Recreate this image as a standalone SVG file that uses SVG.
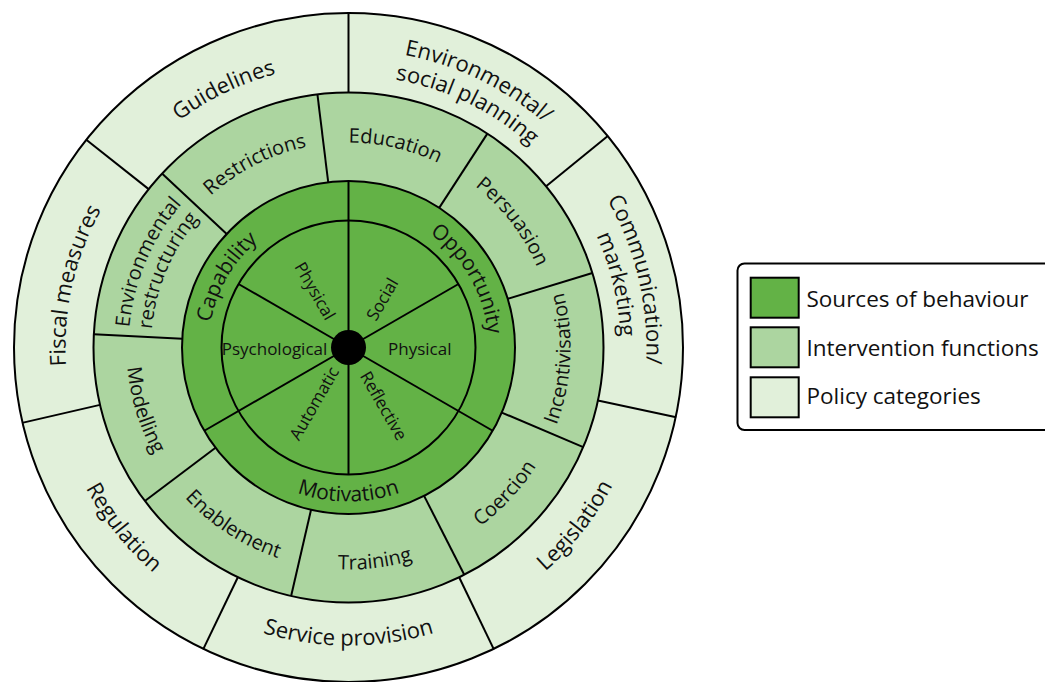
<svg xmlns="http://www.w3.org/2000/svg" width="1045" height="682" viewBox="0 0 1045 682">
<style>
.pol{fill:#e1f0da}
.int{fill:#acd5a0}
.src{fill:#63b246}
.ring{stroke:#000;stroke-width:2}
#dividers line{stroke:#000;stroke-width:2}
text{font-family:"Open Sans","Noto Sans","DejaVu Sans",sans-serif;fill:#111;text-anchor:middle}
.t22{font-size:22px}.t21{font-size:21px}.t20{font-size:20px}.t17{font-size:17px}
.lg{font-size:22.5px;text-anchor:start}
</style>
<defs>
<path id="up283" d="M103.41,206 A283,283 0 0 1 593.59,206"/>
<path id="up298" d="M90.43,198.5 A298,298 0 0 1 606.57,198.5"/>
<path id="up272" d="M112.95,211.5 A272,272 0 0 1 584.05,211.5"/>
<path id="lo298" d="M90.43,496.5 A298,298 0 0 0 606.57,496.5"/>
<path id="up205" d="M170.97,245 A205,205 0 0 1 526.03,245"/>
<path id="up220" d="M157.98,237.5 A220,220 0 0 1 539.02,237.5"/>
<path id="up197" d="M177.46,248.75 A197.5,197.5 0 0 1 519.54,248.75"/>
<path id="lo222" d="M156.24,458.5 A222,222 0 0 0 540.76,458.5"/>
<path id="up140" d="M227.26,277.5 A140,140 0 0 1 469.74,277.5"/>
<path id="lo154" d="M215.13,424.5 A154,154 0 0 0 481.87,424.5"/>
</defs>

<g id="wheel-rings">
<circle class="pol ring" cx="348.5" cy="347.5" r="334.5"/>
<circle class="int ring" cx="348.5" cy="347.5" r="255"/>
<circle class="src ring" cx="348.5" cy="347.5" r="166.5"/>
<circle class="src ring" cx="348.5" cy="347.5" r="127"/>
</g>

<g id="dividers">
<line x1="348.5" y1="92.5" x2="348.5" y2="13"/>
<line x1="148.66" y1="189.12" x2="85.96" y2="139.43"/>
<line x1="100.03" y1="404.87" x2="22.08" y2="422.87"/>
<line x1="237.86" y1="577.26" x2="203.14" y2="649.34"/>
<line x1="459.14" y1="577.26" x2="493.86" y2="649.34"/>
<line x1="597.9" y1="400.5" x2="676.2" y2="417.15"/>
<line x1="546.1" y1="186.34" x2="608.1" y2="135.78"/>

<line x1="507.72" y1="298.82" x2="592.36" y2="272.94"/>
<line x1="439.18" y1="207.86" x2="487.37" y2="133.63"/>
<line x1="328.2" y1="182.25" x2="317.42" y2="94.41"/>
<line x1="226.72" y1="233.95" x2="162" y2="173.59"/>
<line x1="182.23" y1="338.79" x2="93.85" y2="334.16"/>
<line x1="215.53" y1="447.7" x2="144.86" y2="500.96"/>
<line x1="311.04" y1="509.74" x2="291.13" y2="595.97"/>
<line x1="424.09" y1="495.85" x2="464.27" y2="574.71"/>
<line x1="501.76" y1="412.55" x2="583.23" y2="447.13"/>

<line x1="348.5" y1="347.5" x2="348.5" y2="181"/>
<line x1="348.5" y1="347.5" x2="204.31" y2="430.75"/>
<line x1="348.5" y1="347.5" x2="492.69" y2="430.75"/>
<line x1="348.5" y1="347.5" x2="458.49" y2="284"/>
<line x1="348.5" y1="347.5" x2="238.51" y2="284"/>
<line x1="348.5" y1="347.5" x2="348.5" y2="474.5"/>
</g>
<circle id="hub" cx="348.5" cy="347.5" r="17.5" fill="#000"/>

<g id="policy-categories" class="t22">
<g id="guidelines"><text transform="rotate(-25.8 348.5 347.5)"><textPath href="#up283" startOffset="50%">Guidelines</textPath></text></g>
<g id="fiscal-measures"><text transform="rotate(-77.3 348.5 347.5)"><textPath href="#up283" startOffset="50%">Fiscal measures</textPath></text></g>
<g id="environmental-social-planning">
<text transform="rotate(26 348.5 347.5)"><textPath href="#up298" startOffset="50%">Environmental/</textPath></text>
<text transform="rotate(26 348.5 347.5)"><textPath href="#up272" startOffset="50%">social planning</textPath></text>
</g>
<g id="communication-marketing">
<text transform="rotate(76.7 348.5 347.5)"><textPath href="#up298" startOffset="50%">Communication/</textPath></text>
<text transform="rotate(76.7 348.5 347.5)"><textPath href="#up272" startOffset="50%">marketing</textPath></text>
</g>
<g id="regulation"><text transform="rotate(51.35 348.5 347.5)"><textPath href="#lo298" startOffset="50%">Regulation</textPath></text></g>
<g id="service-provision"><text><textPath href="#lo298" startOffset="50%">Service provision</textPath></text></g>
<g id="legislation"><text transform="rotate(-51.85 348.5 347.5)"><textPath href="#lo298" startOffset="50%">Legislation</textPath></text></g>
</g>

<g id="intervention-functions" class="t20">
<g id="education"><text transform="rotate(13 348.5 347.5)"><textPath href="#up205" startOffset="50%">Education</textPath></text></g>
<g id="restrictions"><text transform="rotate(-27 348.5 347.5)"><textPath href="#up205" startOffset="50%">Restrictions</textPath></text></g>
<g id="environmental-restructuring">
<text transform="rotate(-67 348.5 347.5)"><textPath href="#up220" startOffset="50%">Environmental</textPath></text>
<text transform="rotate(-67 348.5 347.5)"><textPath href="#up197" startOffset="50%">restructuring</textPath></text>
</g>
<g id="persuasion"><text transform="rotate(52.5 348.5 347.5)"><textPath href="#up205" startOffset="50%">Persuasion</textPath></text></g>
<g id="modelling"><text transform="rotate(73 348.5 347.5)"><textPath href="#lo222" startOffset="50%">Modelling</textPath></text></g>
<g id="enablement"><text transform="rotate(33 348.5 347.5)"><textPath href="#lo222" startOffset="50%">Enablement</textPath></text></g>
<g id="training"><text transform="rotate(-7 348.5 347.5)"><textPath href="#lo222" startOffset="50%">Training</textPath></text></g>
<g id="coercion"><text transform="rotate(-47 348.5 347.5)"><textPath href="#lo222" startOffset="50%">Coercion</textPath></text></g>
<g id="incentivisation"><text transform="rotate(-87 348.5 347.5)"><textPath href="#lo222" startOffset="50%">Incentivisation</textPath></text></g>
</g>

<g id="sources-of-behaviour" class="t21">
<g id="capability"><text transform="rotate(-60 348.5 347.5)"><textPath href="#up140" startOffset="50%">Capability</textPath></text></g>
<g id="opportunity"><text transform="rotate(60 348.5 347.5)"><textPath href="#up140" startOffset="50%">Opportunity</textPath></text></g>
<g id="motivation"><text><textPath href="#lo154" startOffset="50%">Motivation</textPath></text></g>
</g>

<g id="components" class="t17">
<g id="physical-capability"><text transform="translate(315 291) rotate(60)" dy="0.35em">Physical</text></g>
<g id="psychological"><text x="274.5" y="355">Psychological</text></g>
<g id="social"><text transform="translate(382.3 299.3) rotate(-60)" dy="0.35em">Social</text></g>
<g id="physical-opportunity"><text x="419.8" y="355">Physical</text></g>
<g id="automatic"><text transform="translate(314.2 403.3) rotate(-60)" dy="0.35em">Automatic</text></g>
<g id="reflective"><text transform="translate(383.7 405.8) rotate(60)" dy="0.35em">Reflective</text></g>
</g>

<g id="legend">
<rect x="737.5" y="263.5" width="330" height="166.5" rx="7" fill="#fff" stroke="#000" stroke-width="2"/>
<rect class="src" x="750.7" y="277.7" width="48" height="40" stroke="#000" stroke-width="2"/>
<rect class="int" x="750.7" y="327.3" width="48" height="40" stroke="#000" stroke-width="2"/>
<rect class="pol" x="750.7" y="377.3" width="48" height="40" stroke="#000" stroke-width="2"/>
<text class="lg" x="806.5" y="306.7">Sources of behaviour</text>
<text class="lg" x="806.5" y="355.7">Intervention functions</text>
<text class="lg" x="806.5" y="404.3">Policy categories</text>
</g>
</svg>
